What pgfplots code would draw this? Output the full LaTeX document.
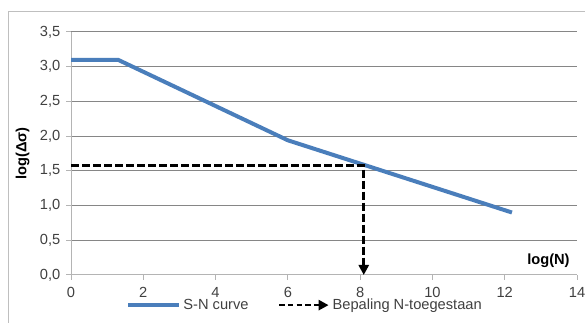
\documentclass[border=0pt]{standalone}
\usepackage{fontspec}
\setmainfont{Liberation Sans}
\usepackage{pgfplots}
\pgfplotsset{compat=1.18}
\usetikzlibrary{arrows.meta}
\definecolor{snblue}{RGB}{74,126,187}
\definecolor{gridgray}{RGB}{134,134,134}
\definecolor{axgray}{RGB}{180,180,180}
\definecolor{txt}{RGB}{64,64,64}
\pgfplotsset{
  snleg/.style={legend image code/.code={\draw[##1] (0pt,0pt) -- (38pt,0pt);}},
  arrleg/.style={legend image code/.code={\draw[##1, dash pattern=on 4pt off 2.5pt] (0pt,0pt) -- (37pt,0pt);}},
}
\begin{document}
\begin{tikzpicture}[x=0.75pt,y=0.75pt]
\useasboundingbox (0,0) rectangle (585,323);
\draw[color=black!25, line width=0.75pt] (8,-5) -- (8,311) -- (600,311);
\begin{axis}[at={(53.25pt,36pt)}, anchor=south west, scale only axis,
  width=379.5pt, height=182.25pt,
  xmin=0, xmax=14, ymin=0, ymax=3.5,
  xtick={0,2,...,14}, ytick={0,0.5,...,3.5},
  axis lines*=left,
  axis line style={axgray, line width=0.75pt},
  ymajorgrids, grid style={gridgray, line width=0.75pt},
  tick align=outside, major tick length=3.5pt,
  tick style={axgray, line width=0.75pt},
  /pgf/number format/assume math mode=true,
  ticklabel style={font=\fontsize{11}{13}\selectfont, text=txt},
  xticklabel style={/tikz/yshift=-2pt, /pgf/number format/.cd, fixed, precision=0},
  yticklabel style={/tikz/xshift=-1pt, /pgf/number format/.cd, fixed, fixed zerofill, precision=1, use comma},
  ylabel={\bfseries log(Δσ)},
  ylabel style={font=\fontsize{11}{13}\selectfont, text=black, yshift=1pt},
  legend style={at={(0.463,-0.124)}, anchor=center, draw=none, fill=none,
    legend columns=2, font=\fontsize{11}{13}\selectfont, text=txt,
    /tikz/every even column/.append style={column sep=20pt}},
  clip=false,
]
\addplot[snblue, line width=3pt, snleg]
  coordinates {(0,3.1)(1.3,3.1)(6,1.94)(12.2,0.9)};
\addlegendentry{S-N curve}
\addplot[black, line width=2pt, dash pattern=on 6pt off 2.25pt,
  -{Triangle[width=7.5pt,length=7.5pt]}, arrleg]
  coordinates {(0,1.58)(8.1,1.58)(8.1,0)};
\addlegendentry{Bepaling N-toegestaan}
\node[anchor=south east, font=\fontsize{11}{13}\selectfont\bfseries] at (rel axis cs:1,0) [xshift=-2pt, yshift=2pt] {log(N)};
\end{axis}
\end{tikzpicture}
\end{document}
